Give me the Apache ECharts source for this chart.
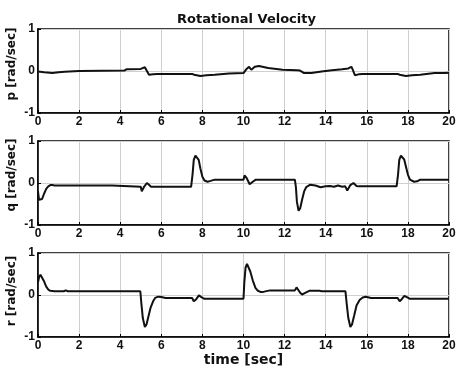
<!DOCTYPE html>
<html>
<head>
<meta charset="utf-8">
<script src="https://cdn.jsdelivr.net/npm/echarts@6/dist/echarts.min.js"></script>
<style>html,body{margin:0;padding:0;background:#fff}#c{width:457px;height:376px}</style>
</head>
<body>
<div id="c"></div>
<script>
var titleText = 'Rotational Velocity';
var xName = 'time [sec]';
var yNames = ['p [rad/sec]', 'q [rad/sec]', 'r [rad/sec]'];
var xTicks = [0, 2, 4, 6, 8, 10, 12, 14, 16, 18, 20];
var yTicks = [-1, 0, 1];

var tP = [0, 0.3, 0.7, 1.0, 1.3, 2.0, 4.2, 4.3, 5.0, 5.2, 5.25, 5.4, 5.6, 5.8, 7.5, 7.6, 7.9, 8.2, 8.6, 9.3, 10.0, 10.15, 10.27, 10.38, 10.55, 10.75, 11.2, 11.9, 12.6, 12.75, 12.95, 13.3, 13.8, 14.3, 14.8, 15.1, 15.25, 15.3, 15.42, 15.6, 15.8, 17.5, 17.6, 17.9, 18.2, 18.6, 19.3, 19.8, 19.85, 20];
var vP = [-0.01, -0.03, -0.05, -0.03, -0.02, 0.0, 0.01, 0.04, 0.05, 0.09, 0.06, -0.09, -0.08, -0.07, -0.07, -0.09, -0.12, -0.1, -0.09, -0.06, -0.05, 0.05, 0.1, 0.03, 0.1, 0.12, 0.07, 0.03, 0.02, 0.01, -0.05, -0.05, -0.01, 0.02, 0.04, 0.06, 0.1, 0.05, -0.1, -0.08, -0.07, -0.07, -0.09, -0.12, -0.1, -0.09, -0.05, -0.05, -0.03, -0.04];

var tQ = [0, 0.05, 0.1, 0.2, 0.3, 0.4, 0.5, 0.6, 0.7, 0.8, 3.6, 3.65, 5.0, 5.05, 5.15, 5.3, 5.4, 5.5, 7.45, 7.52, 7.58, 7.66, 7.75, 7.82, 7.9, 8.0, 8.1, 8.25, 8.4, 8.6, 10.0, 10.05, 10.15, 10.3, 10.45, 10.6, 12.5, 12.55, 12.6, 12.68, 12.76, 12.85, 12.95, 13.05, 13.25, 13.5, 13.75, 14.0, 14.2, 14.4, 14.6, 14.8, 14.95, 15.05, 15.2, 15.35, 15.5, 15.6, 17.45, 17.52, 17.58, 17.66, 17.75, 17.82, 17.9, 18.0, 18.1, 18.3, 18.45, 18.6, 20];
var vQ = [-0.2, -0.4, -0.44, -0.38, -0.25, -0.14, -0.08, -0.05, -0.05, -0.06, -0.06, -0.09, -0.09, -0.2, -0.1, 0.0, -0.04, -0.09, -0.09, 0.2, 0.55, 0.65, 0.64, 0.55, 0.35, 0.15, 0.06, 0.03, 0.05, 0.08, 0.08, 0.18, 0.12, -0.03, 0.03, 0.08, 0.08, -0.1, -0.45, -0.66, -0.6, -0.4, -0.2, -0.1, -0.04, -0.06, -0.1, -0.08, -0.07, -0.09, -0.06, -0.09, -0.08, -0.18, -0.05, 0.0, -0.07, -0.08, -0.08, 0.2, 0.55, 0.65, 0.63, 0.56, 0.4, 0.2, 0.08, 0.03, 0.04, 0.08, 0.08];

var tR = [0, 0.05, 0.12, 0.2, 0.3, 0.4, 0.5, 0.6, 0.8, 1.25, 1.35, 1.45, 4.98, 5.03, 5.1, 5.2, 5.28, 5.38, 5.48, 5.6, 5.7, 5.85, 6.0, 6.2, 7.5, 7.58, 7.7, 7.83, 7.95, 8.1, 10.0, 10.04, 10.1, 10.17, 10.25, 10.33, 10.45, 10.58, 10.7, 10.85, 11.0, 11.3, 12.5, 12.58, 12.65, 12.75, 12.85, 13.0, 13.2, 13.7, 13.8, 14.96, 15.02, 15.1, 15.2, 15.28, 15.38, 15.5, 15.65, 15.8, 15.95, 16.2, 17.5, 17.6, 17.7, 17.83, 17.95, 18.1, 20];
var vR = [0.3, 0.42, 0.48, 0.44, 0.32, 0.2, 0.13, 0.1, 0.09, 0.09, 0.11, 0.09, 0.09, -0.2, -0.55, -0.76, -0.7, -0.5, -0.3, -0.15, -0.07, -0.04, -0.05, -0.07, -0.07, -0.15, -0.1, -0.01, -0.05, -0.09, -0.09, 0.3, 0.65, 0.74, 0.7, 0.56, 0.35, 0.17, 0.1, 0.07, 0.08, 0.11, 0.11, 0.18, 0.18, 0.06, 0.01, 0.05, 0.1, 0.1, 0.09, 0.09, -0.2, -0.55, -0.76, -0.7, -0.5, -0.25, -0.12, -0.06, -0.04, -0.07, -0.07, -0.15, -0.1, -0.02, -0.05, -0.09, -0.09];

function zip(t, v) { return t.map(function (x, i) { return [x, v[i]]; }); }
var seriesData = [zip(tP, vP), zip(tQ, vQ), zip(tR, vR)];

var FONT = 'Liberation Sans, Arial, sans-serif';
var FONT2 = 'DejaVu Sans, sans-serif';
var tops = [29, 141, 253];
var namePad = [[0, 0, 0, 14], [0, 0, 0, 16], [0, 0, 0, 8]];

var grids = [], xAxes = [], yAxes = [], series = [];
for (var i = 0; i < 3; i++) {
  grids.push({ left: 38, width: 411, top: tops[i], height: 84, outerBoundsMode: 'none', containLabel: false, show: true, borderColor: '#000', borderWidth: 1.5, backgroundColor: '#fff' });
  xAxes.push({
    type: 'value', gridIndex: i, min: xTicks[0], max: xTicks[xTicks.length - 1], interval: xTicks[1] - xTicks[0],
    axisLine: { show: true, onZero: false, lineStyle: { color: '#000', width: 1.5 } },
    axisTick: { show: true, inside: true, length: 3, lineStyle: { color: '#000' } },
    axisLabel: { color: '#111', fontFamily: FONT, fontWeight: 'bold', fontSize: 12, margin: 3 },
    splitLine: { show: true, lineStyle: { color: '#cfcfcf', width: 1 } },
    name: i === 2 ? xName : '', nameLocation: 'middle', nameGap: 16,
    nameTextStyle: { color: '#111', fontFamily: FONT2, fontWeight: 'bold', fontSize: 14 }
  });
  yAxes.push({
    type: 'value', gridIndex: i, min: yTicks[0], max: yTicks[yTicks.length - 1], interval: yTicks[1] - yTicks[0],
    axisLine: { show: true, lineStyle: { color: '#000', width: 1.5 } },
    axisTick: { show: true, inside: true, length: 3, lineStyle: { color: '#000' } },
    axisLabel: { color: '#111', fontFamily: FONT, fontWeight: 'bold', fontSize: 12, margin: 3 },
    splitLine: { show: true, lineStyle: { color: '#cfcfcf', width: 1 } },
    name: yNames[i], nameLocation: 'middle', nameGap: 20, nameRotate: 90, nameMoveOverlap: false,
    nameTextStyle: { color: '#111', fontFamily: FONT2, fontWeight: 'bold', fontSize: 12, padding: namePad[i] }
  });
  series.push({
    type: 'line', xAxisIndex: i, yAxisIndex: i, data: seriesData[i], showSymbol: false, symbol: 'none',
    lineStyle: { color: '#111', width: 2 }, animation: false, z: 5
  });
}

var chart = echarts.init(document.getElementById('c'), null, { renderer: 'canvas' });
chart.setOption({
  animation: false,
  backgroundColor: '#fff',
  title: { text: titleText, left: 172, top: 8, textStyle: { color: '#111', fontFamily: FONT2, fontWeight: 'bold', fontSize: 13 } },
  grid: grids, xAxis: xAxes, yAxis: yAxes, series: series
});
</script>
</body>
</html>
